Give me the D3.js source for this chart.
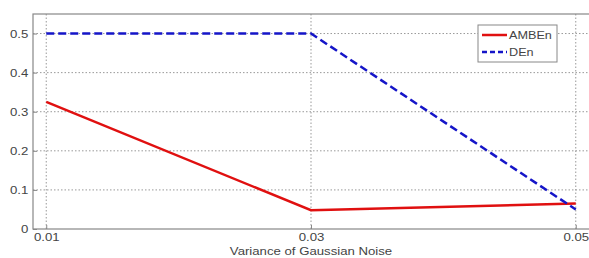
<!DOCTYPE html>
<html>
<head>
<meta charset="utf-8">
<script src="https://cdn.jsdelivr.net/npm/d3@7"></script>
<style>
  body { margin: 0; background: #fff; }
  text { font-family: "Liberation Sans", Arial, sans-serif; }
</style>
</head>
<body>
<script>
// данные графика
const noise = [0.01, 0.03, 0.05];
const ambEn = [0.325, 0.048, 0.065];
const dEn = [0.5, 0.5, 0.05];
const yTicks = [0, 0.1, 0.2, 0.3, 0.4, 0.5];
const seriesNames = ["AMBEn", "DEn"];

const w = 589, h = 258;
const padLeft = 33, padRight = 589, padTop = 14, padBottom = 229;

const xScale = d3.scaleLinear().domain([0.009, 0.051]).range([padLeft, padRight]);
const yScale = d3.scaleLinear().domain([0, 0.55]).range([padBottom, padTop]);

const svg = d3.select("body").append("svg")
  .attr("width", w).attr("height", h);

// сетка
svg.append("g").selectAll("line").data(yTicks.slice(1)).enter().append("line")
  .attr("x1", padLeft).attr("x2", padRight)
  .attr("y1", d => yScale(d)).attr("y2", d => yScale(d))
  .attr("stroke", "#999").attr("stroke-width", 1).attr("stroke-dasharray", "1.5,2");
svg.append("g").selectAll("line").data(noise).enter().append("line")
  .attr("x1", d => xScale(d)).attr("x2", d => xScale(d))
  .attr("y1", padTop).attr("y2", padBottom)
  .attr("stroke", "#999").attr("stroke-width", 1).attr("stroke-dasharray", "1.5,2");

// рамка
svg.append("rect")
  .attr("x", padLeft).attr("y", padTop)
  .attr("width", padRight - padLeft + 2).attr("height", padBottom - padTop)
  .attr("fill", "none").attr("stroke", "#888").attr("stroke-width", 1.2);

// оси
const xAxis = d3.axisBottom(xScale).tickValues(noise).tickFormat(d3.format(".2f")).tickSize(4).tickPadding(0);
const yAxis = d3.axisLeft(yScale).tickValues(yTicks).tickFormat(d => d === 0 ? "0" : d3.format(".1f")(d)).tickSize(4).tickPadding(0);

const gx = svg.append("g").attr("transform", "translate(0," + padBottom + ")").call(xAxis);
gx.select(".domain").remove();
gx.selectAll("line").attr("stroke", "#888").attr("transform", "translate(0,-4)");
gx.selectAll("text").attr("font-size", 11).attr("fill", "#444")
  .attr("font-family", "Liberation Sans, Arial, sans-serif")
  .attr("transform", "scale(1.2,1)");

const gy = svg.append("g").attr("transform", "translate(" + padLeft + ",0)").call(yAxis);
gy.select(".domain").remove();
gy.selectAll("line").attr("stroke", "#888").attr("transform", "translate(4,0)");
gy.selectAll("text").attr("font-size", 11).attr("fill", "#444")
  .attr("font-family", "Liberation Sans, Arial, sans-serif")
  .attr("transform", "scale(1.2,1)");

svg.append("text")
  .attr("transform", "translate(" + xScale(0.03) + ",255) scale(1.2,1)")
  .attr("text-anchor", "middle").attr("font-size", 11).attr("fill", "#444")
  .text("Variance of Gaussian Noise");

// линии
const line = d3.line().x((d, i) => xScale(noise[i])).y(d => yScale(d));

svg.append("path").datum(ambEn).attr("d", line)
  .attr("fill", "none").attr("stroke", "#e01010").attr("stroke-width", 2.5);
svg.append("path").datum(dEn).attr("d", line)
  .attr("fill", "none").attr("stroke", "#1515c8").attr("stroke-width", 2.5)
  .attr("stroke-dasharray", "8,4");

// легенда
const lg = svg.append("g").attr("transform", "translate(478,25)");
lg.append("rect").attr("width", 79).attr("height", 37)
  .attr("fill", "#fff").attr("stroke", "#888").attr("stroke-width", 1);
const styles = [{c: "#e01010", dash: null}, {c: "#1515c8", dash: "5,3"}];
seriesNames.forEach((name, i) => {
  const y = 10 + i * 17;
  lg.append("line").attr("x1", 4).attr("x2", 29).attr("y1", y).attr("y2", y)
    .attr("stroke", styles[i].c).attr("stroke-width", 2.5)
    .attr("stroke-dasharray", styles[i].dash);
  lg.append("text").attr("transform", "translate(31," + (y + 4) + ") scale(1.15,1)")
    .attr("font-size", 11).attr("fill", "#444").text(name);
});
</script>
</body>
</html>
